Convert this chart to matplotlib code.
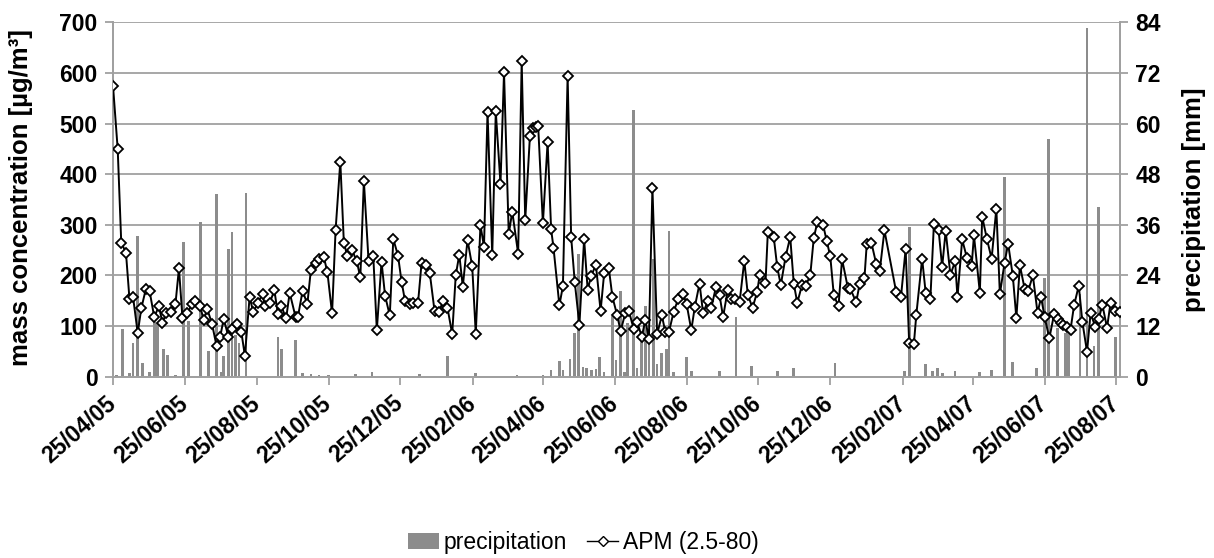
import datetime as dt
import matplotlib
matplotlib.use("Agg")
import matplotlib.pyplot as plt
import matplotlib.dates as mdates
from matplotlib.lines import Line2D
from matplotlib.patches import Patch

start_date = dt.date(2005, 4, 25)
end_day = 855

apm_days = [0, 4, 7, 11, 14, 17, 21, 24, 28, 31, 35, 39, 42, 45, 49, 53, 56, 59, 63, 67,
            70, 74, 77, 80, 84, 88, 91, 94, 98, 101, 105, 109, 112, 116, 119, 123, 127, 129, 133, 137,
            140, 143, 147, 150, 155, 157, 161, 165, 168, 172, 175, 179, 182, 186, 189, 193, 196, 199, 203, 207,
            210, 213, 217, 221, 224,
            228, 231, 235, 238, 242, 245, 248, 252, 255, 259, 262, 266, 269, 273, 277, 280, 284, 288, 291, 294,
            297, 301, 305, 308, 312, 315, 318, 322, 325, 329, 332, 336, 339, 344, 347, 350, 354, 357, 359, 361,
            365, 369, 372, 374, 379, 382, 386, 389, 392, 396, 400, 403, 406, 410, 414, 417, 421, 424, 428, 431,
            435, 438, 442, 445, 449, 452, 455, 458, 462, 466,
            469, 472, 476, 480, 484, 487, 491, 494, 498, 501, 505, 508, 512, 515, 518, 522, 525, 528, 532, 536,
            539, 543, 547, 549, 554, 556, 561, 564, 567, 571, 575, 578, 581, 585, 588, 592, 595, 598, 603, 606,
            609, 612, 616, 619, 624, 626, 631, 634, 638, 640, 644, 648, 651, 655, 665, 669, 673, 676, 680, 682,
            687, 690, 694, 697, 701, 704, 707, 711, 715, 717,
            721, 725, 729, 731, 736, 738, 742, 746, 750, 753, 757, 760, 764, 767, 770, 774, 777, 781, 785, 788,
            791, 795, 799, 802, 805, 807, 810, 813, 816, 820, 823, 827, 830, 834, 837, 840, 844, 847, 851, 855]

apm_values = [575, 449, 265, 245, 153, 158, 86, 135, 174, 170, 118, 139, 106, 126, 128, 143, 214, 115, 125, 143,
              149, 139, 112, 134, 105, 60, 79, 114, 79, 95, 105, 88, 41, 158, 128, 145, 164, 139, 145, 171,
              124, 139, 115, 166, 118, 118, 170, 143, 211, 224, 232, 236, 207, 125, 290, 425, 265, 238, 250, 228,
              196, 387, 228, 238, 92,
              227, 160, 121, 272, 239, 188, 149, 143, 146, 146, 225, 220, 204, 130, 128, 149, 136, 84, 200, 241,
              178, 270, 218, 85, 299, 257, 523, 240, 524, 381, 601, 282, 326, 243, 623, 309, 476, 491, 493, 495,
              303, 463, 291, 255, 141, 179, 594, 276, 188, 102, 272, 172, 199, 221, 130, 204, 214, 158, 122, 90,
              126, 130, 95, 108, 79, 112, 75, 373, 84, 121,
              88, 88, 128, 154, 164, 144, 92, 138, 184, 126, 149, 136, 178, 161, 118, 172, 154, 153, 147, 229,
              162, 136, 168, 200, 185, 286, 276, 216, 181, 236, 276, 184, 146, 181, 179, 200, 274, 305, 299, 268,
              238, 161, 139, 232, 175, 174, 147, 184, 194, 263, 264, 223, 209, 289, 167, 157, 252, 66, 65, 121,
              233, 166, 154, 302, 289, 217, 288, 201, 228, 157,
              271, 235, 218, 279, 166, 316, 272, 233, 332, 163, 225, 263, 199, 116, 220, 174, 169, 200, 126, 157,
              118, 76, 123, 113, 107, 102, 99, 93, 141, 180, 109, 49, 125, 99, 114, 142, 97, 146, 130, 128]

rain_days = [3, 8, 14, 17, 21, 25, 31, 35, 38, 43, 46, 53, 60, 64, 74, 81, 88, 92, 94, 98,
             101, 104, 107, 113, 140, 143, 155, 161, 168, 175, 183, 206, 220, 260, 284, 308, 343, 365, 372, 379,
             382, 388, 392, 395, 399, 402, 406, 410, 413, 417, 424, 427, 431, 434, 437, 442, 445, 449, 452, 455,
             459, 462, 466, 470, 472, 476, 487, 491, 515, 529, 542, 564, 578, 613, 672, 676, 690, 696, 700, 704,
             715, 736, 746, 757, 764, 784, 791, 794, 802, 809, 811, 821, 827, 833, 837, 851]
rain_mm = [0.3, 11.4, 0.8, 7.9, 33.4, 3.3, 1.2, 13.0, 12.7, 6.5, 5.2, 0.5, 32.0, 13.2, 36.7, 6.0, 43.3, 1.2, 5.0, 30.2,
           34.3, 10.0, 8.0, 43.6, 9.4, 6.5, 8.7, 0.8, 0.6, 0.3, 0.4, 0.6, 1.0, 0.6, 4.9, 0.9, 0.4, 0.4, 1.5, 3.8,
           1.7, 4.3, 10.4, 29.2, 2.3, 2.1, 1.6, 1.8, 4.7, 1.0, 14.5, 3.9, 20.3, 1.0, 12.7, 63.2, 2.0, 10.4, 16.7, 8.0,
           27.9, 2.9, 5.5, 6.5, 34.5, 1.0, 4.7, 1.3, 1.3, 14.2, 2.5, 1.3, 2.1, 3.2, 1.3, 35.4, 3.1, 1.3, 2.1, 0.8,
           1.3, 1.1, 1.6, 47.3, 3.5, 2.1, 23.3, 56.3, 11.5, 10.4, 10.4, 19.6, 82.7, 7.3, 40.2, 9.5]

tick_labels = ["25/04/05", "25/06/05", "25/08/05", "25/10/05", "25/12/05", "25/02/06", "25/04/06",
               "25/06/06", "25/08/06", "25/10/06", "25/12/06", "25/02/07", "25/04/07", "25/06/07", "25/08/07"]

left_ticks = [0, 100, 200, 300, 400, 500, 600, 700]
right_ticks = [0, 12, 24, 36, 48, 60, 72, 84]

plt.rcParams['font.family'] = ['Liberation Sans', 'DejaVu Sans']

def to_num(d):
    return mdates.date2num(start_date + dt.timedelta(days=d))

apm_x = [to_num(d) for d in apm_days]
rain_x = [to_num(d) for d in rain_days]
tick_x = [mdates.date2num(dt.datetime.strptime(t, "%d/%m/%y")) for t in tick_labels]

GRID = '#a0a0a0'
BAR = '#8c8c8c'

fig = plt.figure(figsize=(12.14, 5.58), dpi=100)
ax = fig.add_axes([113/1214, 1 - 376.7/558, (1120 - 113)/1214, (376.7 - 22.3)/558])
ax2 = ax.twinx()
ax.set_zorder(2)
ax2.set_zorder(1)
ax.patch.set_visible(False)

ax2.bar(rain_x, rain_mm, width=2.3, color=BAR, zorder=2, linewidth=0)
ax2.set_ylim(0, 84)
ax2.set_yticks(right_ticks)
ax2.set_axisbelow(True)
ax2.yaxis.grid(True, color=GRID, linewidth=1.3)

ax.plot(apm_x, apm_values, color='black', linewidth=1.4, marker='D', markersize=4.8,
        markerfacecolor='white', markeredgecolor='black', markeredgewidth=1.3, zorder=3)
ax.set_ylim(0, 700)
ax.set_yticks(left_ticks)
ax.set_xlim(to_num(0), to_num(end_day))
ax.set_xticks(tick_x)
ax.set_xticklabels(tick_labels, rotation=41, ha='right', va='center', rotation_mode='anchor',
                   fontsize=16.5, fontweight='bold')

for a in (ax, ax2):
    for s in a.spines.values():
        s.set_color(GRID)
        s.set_linewidth(1.3)
    a.spines['top'].set_visible(False)

ax.tick_params(axis='x', direction='out', length=6, width=1.3, color=GRID, pad=11)
ax.tick_params(axis='y', direction='out', length=6, width=1.3, color=GRID, pad=5, labelsize=16.5)
ax2.tick_params(axis='y', direction='out', length=6, width=1.3, color=GRID, pad=5, labelsize=16.5)
for lab in ax.get_yticklabels() + ax2.get_yticklabels():
    lab.set_fontweight('bold')

ax.set_ylabel('mass concentration [µg/m³]', fontsize=18.5, fontweight='bold')
ax.yaxis.set_label_coords((33 - 113) / 1007, 0.505)
ax2.set_ylabel('precipitation [mm]', fontsize=18.5, fontweight='bold')
ax2.yaxis.set_label_coords((1182 - 113) / 1007, 0.50)

handles = [Patch(facecolor=BAR, edgecolor='none'),
           Line2D([0], [0], color='black', linewidth=1.0, marker='D', markersize=5,
                  markerfacecolor='white', markeredgecolor='black', markeredgewidth=1.0)]
fig.legend(handles, ['precipitation', 'APM (2.5-80)'], loc='lower center',
           bbox_to_anchor=(583/1214, -0.03), ncol=2, frameon=False, fontsize=16.5,
           handlelength=1.35, handletextpad=0.2, columnspacing=0.9)

fig.savefig('out.png', dpi=100)
